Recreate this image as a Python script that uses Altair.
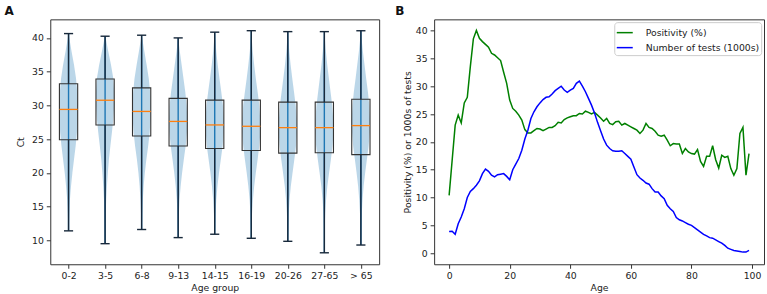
import json
import altair as alt
import pandas as pd

# ---------------- Panel A data ----------------
GROUPS = ["0-2", "3-5", "6-8", "9-13", "14-15", "16-19", "20-26", "27-65", "> 65"]
WHISK_LO = [11.4, 9.5, 11.6, 10.4, 10.9, 10.3, 9.85, 8.15, 9.3]
Q1 = [24.9, 27.1, 25.45, 23.97, 23.6, 23.3, 22.92, 22.97, 22.7]
MEDIAN = [29.4, 30.76, 29.1, 27.62, 27.1, 26.9, 26.7, 26.7, 27.0]
Q3 = [33.2, 33.9, 32.6, 31.03, 30.78, 30.78, 30.48, 30.48, 30.9]
WHISK_HI = [40.64, 40.25, 40.4, 40.0, 40.85, 41.07, 40.93, 40.93, 41.06]

# violin relative widths at these Ct levels
CT_LEVELS = [10, 12, 14, 16, 18, 20, 22, 24, 26, 28, 30, 32, 34, 36, 38, 40]
VIOLIN_FRAC = [
    [0.00, 0.03, 0.08, 0.15, 0.27, 0.42, 0.60, 0.78, 0.92, 1.00, 1.00, 0.95, 0.82, 0.60, 0.33, 0.08],
    [0.02, 0.04, 0.07, 0.12, 0.20, 0.30, 0.42, 0.58, 0.75, 0.90, 1.00, 1.00, 0.90, 0.65, 0.35, 0.06],
    [0.00, 0.03, 0.07, 0.13, 0.22, 0.35, 0.52, 0.72, 0.88, 0.98, 1.00, 0.93, 0.78, 0.55, 0.30, 0.06],
    [0.01, 0.04, 0.08, 0.15, 0.27, 0.43, 0.62, 0.82, 0.96, 1.00, 0.93, 0.78, 0.58, 0.38, 0.18, 0.02],
    [0.00, 0.04, 0.09, 0.17, 0.30, 0.47, 0.67, 0.87, 0.98, 1.00, 0.90, 0.72, 0.52, 0.33, 0.17, 0.05],
    [0.01, 0.04, 0.09, 0.18, 0.32, 0.50, 0.70, 0.88, 1.00, 0.98, 0.88, 0.70, 0.50, 0.32, 0.16, 0.05],
    [0.01, 0.05, 0.10, 0.19, 0.33, 0.52, 0.72, 0.90, 1.00, 0.97, 0.86, 0.68, 0.49, 0.31, 0.16, 0.05],
    [0.02, 0.05, 0.10, 0.19, 0.33, 0.52, 0.72, 0.90, 1.00, 0.97, 0.86, 0.68, 0.50, 0.32, 0.17, 0.05],
    [0.02, 0.05, 0.10, 0.18, 0.30, 0.47, 0.66, 0.85, 0.97, 1.00, 0.92, 0.77, 0.58, 0.40, 0.22, 0.07],
]

# ---------------- Panel B data ----------------
AGES = list(range(100))
POSITIVITY = [
    10.4, 16.7, 23.0, 24.8, 23.4, 27.0, 28.0, 33.5, 38.5, 40.0,
    38.6, 38.0, 37.5, 37.0, 35.9, 35.6, 35.1, 34.6, 32.5, 30.5,
    27.5, 26.0, 25.5, 24.8, 23.9, 22.2, 21.6, 21.6, 22.0, 22.4,
    22.3, 22.0, 22.3, 22.6, 22.6, 22.9, 23.5, 23.4, 24.0, 24.3,
    24.5, 24.7, 24.7, 25.1, 25.0, 25.5, 25.3, 25.0, 25.3, 24.8,
    24.3, 23.7, 24.2, 23.3, 23.1, 23.6, 23.7, 23.0, 23.3, 23.0,
    22.7, 22.4, 22.1, 21.5, 22.1, 23.3, 22.6, 22.4, 21.9, 21.2,
    21.0, 21.2, 20.3, 19.3, 19.7, 19.6, 19.6, 17.9, 18.8, 18.2,
    17.9, 17.8, 18.6, 16.5, 15.6, 17.4, 17.4, 19.3, 16.8, 15.3,
    17.6, 17.2, 17.4, 15.2, 14.0, 15.2, 21.5, 22.6, 14.0, 17.9,
]
TESTS = [
    3.9, 3.95, 3.4, 5.3, 6.5, 8.0, 10.0, 11.1, 11.6, 12.2,
    13.0, 14.3, 15.1, 14.7, 14.0, 13.7, 14.1, 14.2, 14.3, 13.8,
    13.2, 15.0, 16.0, 17.0, 18.5, 20.5, 22.1, 24.2, 25.4, 26.3,
    27.0, 27.6, 28.0, 28.1, 28.6, 29.2, 29.6, 30.0, 29.3, 28.9,
    29.3, 29.6, 30.5, 30.9, 30.0, 29.0, 27.8, 26.6, 25.2, 23.5,
    22.0, 20.5, 19.4, 18.8, 18.4, 18.3, 18.3, 18.4, 17.9, 17.4,
    16.9, 15.5, 14.1, 13.5, 13.1, 12.6, 12.4, 11.6, 11.0, 11.0,
    10.3, 9.8, 8.6, 8.0, 7.5, 6.4, 6.0, 5.8, 5.5, 5.2,
    5.0, 4.6, 4.2, 3.8, 3.4, 3.1, 2.8, 2.7, 2.4, 2.1,
    1.8, 1.4, 0.9, 0.7, 0.5, 0.4, 0.3, 0.2, 0.2, 0.5,
]
SERIES = ["Positivity (%)", "Number of tests (1000s)"]
SERIES_COLORS = ["#008000", "#0000ff"]

FONT = "DejaVu Sans"
FS = 9.3
TXT = "#222222"

# ---------------- build tables ----------------
box_df = pd.DataFrame({
    "group": GROUPS,
    "idx": list(range(1, len(GROUPS) + 1)),
    "lo": WHISK_LO, "q1": Q1, "med": MEDIAN, "q3": Q3, "hi": WHISK_HI,
})

vrows = []
for i, g in enumerate(GROUPS):
    lo, hi = WHISK_LO[i], WHISK_HI[i]
    vrows.append({"group": g, "idx": i + 1, "ct": lo, "frac": 0.0})
    for lev, fr in zip(CT_LEVELS, VIOLIN_FRAC[i]):
        if lo < lev < hi:
            vrows.append({"group": g, "idx": i + 1, "ct": lev, "frac": fr})
    vrows.append({"group": g, "idx": i + 1, "ct": hi, "frac": 0.0})
violin_df = pd.DataFrame(vrows)
violin_df["xl"] = violin_df["idx"] - 0.25 * violin_df["frac"]
violin_df["xr"] = violin_df["idx"] + 0.25 * violin_df["frac"]

xscaleA = alt.Scale(domain=[0.5, 9.5], nice=False, zero=False)
yscaleA = alt.Scale(domain=[6.45, 42.75], nice=False, zero=False)
label_expr = json.dumps(GROUPS) + "[datum.value - 1]"
XA = alt.Axis(title="Age group", values=list(range(1, 10)), labelExpr=label_expr,
              titleY=19, titleBaseline="top")
YA = alt.Axis(title="Ct", values=[10, 15, 20, 25, 30, 35, 40], titleX=-24.5,
              titleBaseline="bottom")


def qx(field):
    return alt.X(field, type="quantitative", scale=xscaleA, axis=XA, stack=None)


def qy(field):
    return alt.Y(field, type="quantitative", scale=yscaleA, axis=YA, stack=None)


violins = alt.Chart(violin_df).mark_area(
    orient="horizontal", color="#1f77b4", fillOpacity=0.3, strokeWidth=0
).encode(
    y=qy("ct"), x=qx("xl"), x2="xr:Q", detail="group:N"
)

base = alt.Chart(box_df).transform_calculate(
    bl="datum.idx - 0.25", br="datum.idx + 0.25",
    cl="datum.idx - 0.125", cr="datum.idx + 0.125",
)

center = base.mark_rule(color="#1f77b4", strokeWidth=1.4).encode(
    x=qx("idx"), y=qy("lo"), y2="hi:Q")
boxes = base.mark_rect(fillOpacity=0, stroke="#333333", strokeWidth=1.1).encode(
    x=qx("bl"), x2="br:Q", y=qy("q1"), y2="q3:Q")
wlow = base.mark_rule(color="#18293b", strokeWidth=1.4).encode(
    x=qx("idx"), y=qy("lo"), y2="q1:Q")
whigh = base.mark_rule(color="#18293b", strokeWidth=1.4).encode(
    x=qx("idx"), y=qy("q3"), y2="hi:Q")
caplo = base.mark_rule(color="#18293b", strokeWidth=1.4).encode(
    x=qx("cl"), x2="cr:Q", y=qy("lo"))
caphi = base.mark_rule(color="#18293b", strokeWidth=1.4).encode(
    x=qx("cl"), x2="cr:Q", y=qy("hi"))
medians = base.mark_rule(color="#ff7f0e", strokeWidth=1.3).encode(
    x=qx("bl"), x2="br:Q", y=qy("med"))

labelA = alt.Chart(pd.DataFrame({"t": ["A"]})).mark_text(
    align="left", baseline="top", font=FONT, fontSize=12, fontWeight="bold", color="#111111"
).encode(text="t:N", x=alt.value(-45.7), y=alt.value(-13.7))

panelA = alt.layer(violins, center, boxes, wlow, whigh, caplo, caphi, medians, labelA).properties(
    width=329, height=245)

# ---------------- Panel B ----------------
line_df = pd.DataFrame({
    "age": AGES * 2,
    "value": POSITIVITY + TESTS,
    "series": [SERIES[0]] * len(AGES) + [SERIES[1]] * len(AGES),
    "ord": [0] * len(AGES) + [1] * len(AGES),
})

lines = alt.Chart(line_df).mark_line(strokeWidth=1.5).encode(
    x=alt.X("age:Q", scale=alt.Scale(domain=[-4.95, 103.95], nice=False, zero=False),
            axis=alt.Axis(title="Age", values=[0, 20, 40, 60, 80, 100], titleY=19,
                          titleBaseline="top")),
    y=alt.Y("value:Q", scale=alt.Scale(domain=[-1.98, 42.0], nice=False, zero=False),
            axis=alt.Axis(title="Positivity (%) or 1000s of tests",
                          values=[0, 5, 10, 15, 20, 25, 30, 35, 40], titleX=-22,
                          titleBaseline="bottom")),
    color=alt.Color("series:N", scale=alt.Scale(domain=SERIES, range=SERIES_COLORS),
                    legend=alt.Legend(
                        title=None, orient="none", legendX=564.2, legendY=2.8,
                        fillColor="#ffffff", strokeColor="#cccccc", cornerRadius=3,
                        padding=1.5, symbolType="stroke", symbolSize=256,
                        symbolStrokeWidth=1.5, labelFontSize=FS, labelFont=FONT,
                        labelColor=TXT, labelOffset=12, rowPadding=-2)),
    detail="ord:N",
)

labelB = alt.Chart(pd.DataFrame({"t": ["B"]})).mark_text(
    align="left", baseline="top", font=FONT, fontSize=12, fontWeight="bold", color="#111111"
).encode(text="t:N", x=alt.value(-39), y=alt.value(-13.3))

panelB = alt.layer(lines, labelB).properties(width=330, height=245)

chart = alt.hconcat(panelA, panelB, spacing=55, bounds="flush").properties(
    padding={"left": 3.3, "top": 3.3, "right": 2, "bottom": 2}
).configure(font=FONT).configure_view(
    stroke="#333333", strokeWidth=1
).configure_axis(
    grid=False, domain=False, labelFont=FONT, titleFont=FONT, labelFontSize=FS,
    titleFontSize=FS, titleFontWeight="normal", labelColor=TXT, titleColor=TXT,
    tickColor="#333333", tickSize=4, labelPadding=3, tickWidth=1
)

chart.save("out.html", embed_options={"renderer": "svg", "actions": False})
